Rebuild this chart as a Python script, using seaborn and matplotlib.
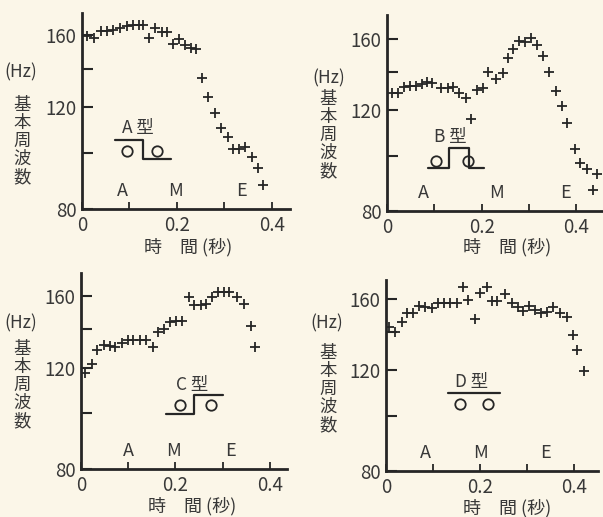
import seaborn as sns
import matplotlib.pyplot as plt
import numpy as np
from matplotlib.ticker import FixedLocator, NullFormatter, FuncFormatter

# pitch contours: time (s) and fundamental frequency (Hz)
a_time = [0.011, 0.025, 0.039, 0.052, 0.066, 0.080, 0.094, 0.107, 0.121, 0.129,
          0.142, 0.154, 0.168, 0.180, 0.192, 0.204, 0.217, 0.229, 0.241, 0.253,
          0.266, 0.281, 0.293, 0.307, 0.319, 0.331, 0.343, 0.357, 0.370, 0.382]
a_freq = [159.6, 157.9, 162.6, 162.6, 163.2, 164.7, 166.0, 166.5, 166.5, 166.5,
          158.3, 164.3, 162.1, 161.7, 154.2, 157.5, 153.8, 152.1, 151.3, 135.0,
          124.8, 117.4, 110.3, 106.5, 101.5, 101.5, 102.6, 98.5, 94.3, 88.0]

b_time = [0.011, 0.023, 0.035, 0.048, 0.061, 0.073, 0.085, 0.096, 0.115, 0.129,
          0.140, 0.152, 0.166, 0.178, 0.189, 0.203, 0.214, 0.230, 0.244, 0.256,
          0.266, 0.279, 0.291, 0.305, 0.317, 0.330, 0.342, 0.357, 0.369, 0.381,
          0.397, 0.408, 0.422, 0.434, 0.444]
b_freq = [128.4, 128.4, 131.9, 132.3, 132.3, 133.2, 134.3, 133.7, 131.4, 131.4,
          131.9, 128.4, 126.2, 115.8, 130.1, 131.4, 140.1, 136.1, 139.2, 147.9,
          153.6, 158.6, 157.8, 160.3, 156.1, 149.5, 140.1, 129.6, 122.2, 113.8,
          102.6, 97.2, 94.6, 87.0, 93.0]

c_time = [0.009, 0.023, 0.034, 0.048, 0.061, 0.073, 0.087, 0.100, 0.111, 0.124,
          0.138, 0.152, 0.163, 0.175, 0.188, 0.201, 0.214, 0.228, 0.240, 0.253,
          0.265, 0.278, 0.290, 0.302, 0.314, 0.331, 0.344, 0.359, 0.369]
c_freq = [117.4, 121.9, 128.6, 131.5, 131.0, 130.6, 132.4, 133.8, 133.8, 133.8,
          133.8, 130.3, 138.2, 140.0, 143.8, 144.9, 144.9, 159.2, 154.3, 154.3,
          155.0, 159.5, 162.2, 162.2, 162.2, 159.5, 155.0, 141.9, 130.3]

d_time = [0.007, 0.019, 0.033, 0.044, 0.057, 0.071, 0.083, 0.097, 0.111, 0.123,
          0.136, 0.150, 0.164, 0.175, 0.189, 0.200, 0.214, 0.225, 0.237, 0.253,
          0.267, 0.281, 0.291, 0.305, 0.317, 0.329, 0.343, 0.356, 0.370, 0.384,
          0.397, 0.407, 0.422]
d_freq = [143.1, 140.2, 146.0, 151.0, 151.0, 155.5, 155.1, 154.1, 157.6, 157.6,
          157.6, 157.6, 167.7, 159.4, 147.4, 164.1, 168.2, 158.9, 158.9, 163.3,
          157.6, 155.1, 152.6, 155.5, 153.0, 151.0, 152.0, 154.7, 151.4, 148.6,
          138.4, 130.2, 119.8]

type_names = ["A 型", "B 型", "C 型", "D 型"]
segment_names = ["A", "M", "E"]
segment_pos = [[0.086, 0.196, 0.336],
               [0.077, 0.231, 0.376],
               [0.101, 0.195, 0.316],
               [0.083, 0.200, 0.340]]

y_major = [80, 120, 160]
y_minor = [100, 140]
x_major = [0, 0.2, 0.4]
x_minor = [0.1, 0.3]

BG = "#fbf6e8"
INK = "#262626"
TXT = "#383838"

sns.set_theme(style="white")
plt.rcParams["font.family"] = ["Noto Sans CJK JP", "DejaVu Sans"]

W, H = 603, 517


def px(x, y):
    return x / W, 1 - y / H


fig = plt.figure(figsize=(6.03, 5.17), dpi=100, facecolor=BG)

# axes rectangles in pixels: left, bottom(px from top), right, top(px from top)
boxes = [(82, 209, 290, 13), (387, 211, 603, 15), (81, 469, 287, 273), (386, 471, 598, 280)]
xmaxes = [0.438, 0.456, 0.436, 0.451]
ymaxes = [174.7, 176.0, 175.3, 172.8]
hz_pos = [(21, 72), (329, 78), (21, 323), (327, 323)]
vlab_pos = [(22, 141), (328, 135), (22, 385), (328, 389)]
xlab_pos = [(188, 247), (507, 247), (192, 506), (507, 508)]
type_pos = [(0.267, 0.413), (0.295, 0.377), (0.541, 0.431), (0.405, 0.467)]

# accent diagrams (axes fraction): step line and the two mora circles
diagram_lines = [
    [(0.159, 0.352), (0.292, 0.352), (0.292, 0.255), (0.426, 0.255)],
    [(0.190, 0.217), (0.287, 0.217), (0.287, 0.319), (0.380, 0.319), (0.380, 0.217), (0.448, 0.217)],
    [(0.413, 0.281), (0.550, 0.281), (0.550, 0.376), (0.687, 0.376)],
    [(0.294, 0.409), (0.539, 0.409)],
]
diagram_circles = [
    [(0.215, 0.297), (0.362, 0.297)],
    [(0.229, 0.255), (0.376, 0.255)],
    [(0.481, 0.324), (0.631, 0.324)],
    [(0.350, 0.353), (0.483, 0.353)],
]

series = [(a_time, a_freq), (b_time, b_freq), (c_time, c_freq), (d_time, d_freq)]

for i, (t, f) in enumerate(series):
    l, b, r, tp = boxes[i]
    ax = fig.add_axes([l / W, 1 - b / H, (r - l) / W, (b - tp) / H])
    ax.set_facecolor(BG)
    ax.set_yscale("log")
    sns.scatterplot(x=t, y=f, ax=ax, marker="+", s=60, color=INK, linewidth=1.3, zorder=3)
    ax.set_xlim(0, xmaxes[i])
    ax.set_ylim(80, ymaxes[i])

    ax.yaxis.set_major_locator(FixedLocator(y_major))
    ax.yaxis.set_minor_locator(FixedLocator(y_minor))
    ax.yaxis.set_major_formatter(FuncFormatter(lambda v, p: f"{int(round(v))}"))
    ax.yaxis.set_minor_formatter(NullFormatter())
    ax.xaxis.set_major_locator(FixedLocator(x_major))
    ax.xaxis.set_minor_locator(FixedLocator(x_minor))
    ax.xaxis.set_major_formatter(FuncFormatter(lambda v, p: "0" if v == 0 else f"{v:.1f}"))

    ax.tick_params(axis="y", which="both", direction="in", length=8, width=1.5,
                   color=INK, labelsize=13.5, labelcolor=TXT, pad=4, left=True)
    ax.tick_params(axis="x", which="both", direction="in", length=5, width=1.3,
                   color=INK, labelsize=13.5, labelcolor=TXT, pad=4, bottom=True)
    for s in ["top", "right"]:
        ax.spines[s].set_visible(False)
    for s in ["left", "bottom"]:
        ax.spines[s].set_color(INK)
        ax.spines[s].set_linewidth(2.0)
    ax.set_xlabel("")
    ax.set_ylabel("")

    # segment labels A / M / E above the time axis
    for name, xpos in zip(segment_names, segment_pos[i]):
        ax.text(xpos, 0.045, name, transform=ax.get_xaxis_transform(), ha="center",
                va="bottom", fontsize=13, color=TXT)

    ax.text(*type_pos[i], type_names[i], transform=ax.transAxes, ha="center",
            va="center", fontsize=12.5, color=TXT)
    pts = np.array(diagram_lines[i])
    ax.plot(pts[:, 0], pts[:, 1], transform=ax.transAxes, color=INK, lw=1.6, clip_on=False)
    cpts = np.array(diagram_circles[i])
    ax.plot(cpts[:, 0], cpts[:, 1], transform=ax.transAxes, ls="none", marker="o",
            ms=7.5, mfc="none", mec=INK, mew=1.3, clip_on=False)

    fig.text(*px(*hz_pos[i]), "(Hz)", ha="center", va="center", fontsize=12.5, color=TXT)
    fig.text(*px(*vlab_pos[i]), "基\n本\n周\n波\n数", ha="center", va="center",
             fontsize=12.5, color=TXT, linespacing=1.0)
    fig.text(*px(*xlab_pos[i]), "時　間 (秒)", ha="center", va="center", fontsize=13, color=TXT)

fig.savefig("out.png", dpi=100, facecolor=BG)
